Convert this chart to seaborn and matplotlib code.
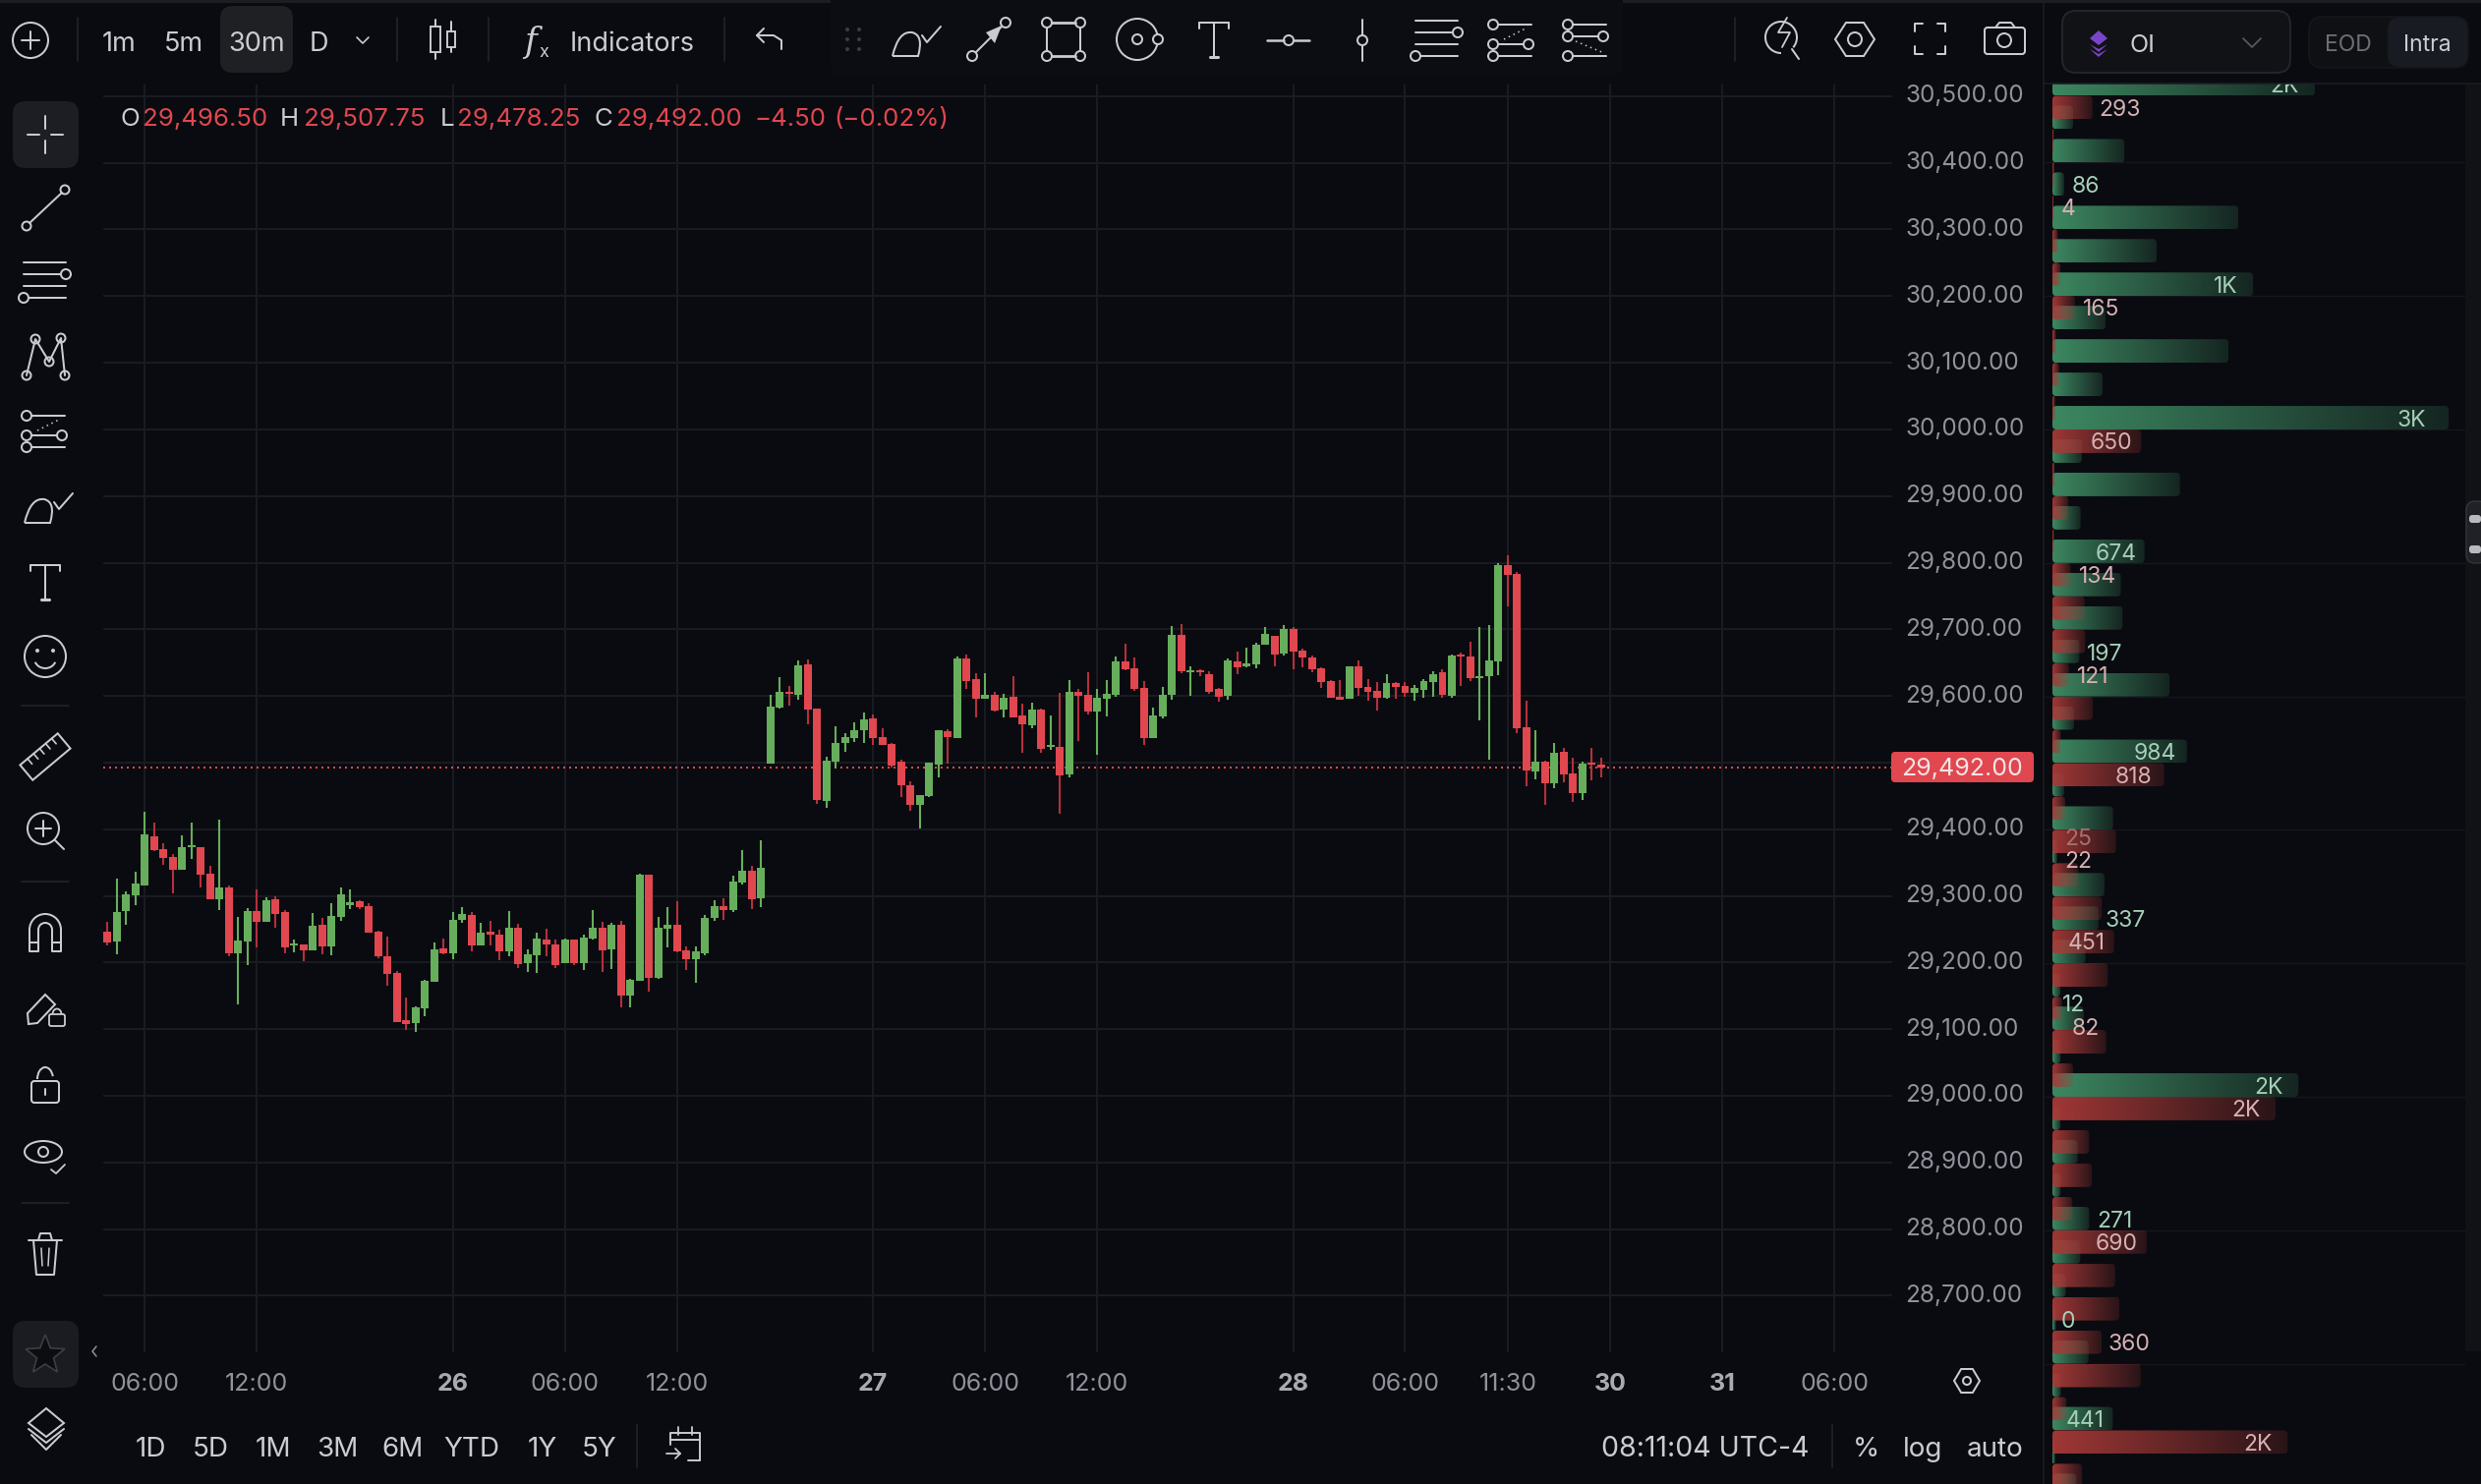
import numpy as np
import pandas as pd
import matplotlib.pyplot as plt
import seaborn as sns
from matplotlib.path import Path
from matplotlib.patches import Circle, Ellipse, FancyBboxPatch, Polygon, Arc, PathPatch

W, H = 2524, 1510
BG = '#0a0b10'
GRID = '#1a1b20'
UP = '#67ae5c'
DOWN = '#e0474f'
DOWN_WICK = '#b4303a'
TXT = '#c9ccd1'
AXTXT = '#8f929a'
ICON = '#c8cbd0'
SEP = '#22242a'

# 30 minute candles
opens = [29246, 29231.5, 29277, 29301, 29315.5, 29389, 29370, 29358, 29339, 29373,
         29373, 29333, 29295, 29312.5, 29214, 29231.5, 29277, 29261, 29295, 29275.5,
         29225.5, 29227, 29218, 29256.5, 29224, 29268.5, 29286, 29292, 29284.5, 29246,
         29209.5, 29184.5, 29113.5, 29109, 29131, 29171, 29221, 29214, 29264, 29271.5,
         29225.5, 29246, 29242, 29216.5, 29252, 29199, 29211, 29234.5, 29227, 29199,
         29234.5, 29199, 29236, 29252, 29219.5, 29256.5, 29150.5, 29172.5, 29332, 29177,
         29250.5, 29256.5, 29218, 29205, 29214, 29267, 29284.5, 29278.5, 29320, 29337.5,
         29296.5, 29498.5, 29582.5, 29606, 29601.5, 29647.5, 29581, 29442.5, 29501.5, 29529.5,
         29537, 29548.5, 29566.5, 29538.5, 29528, 29501.5, 29466, 29436.5, 29450, 29497,
         29547, 29537, 29656.5, 29625.5, 29596, 29601.5, 29579.5, 29598.5, 29570.5, 29556,
         29579.5, 29523.5, 29523.5, 29482, 29606, 29601.5, 29576.5, 29596, 29601.5, 29652,
         29641.5, 29612, 29537, 29569, 29601.5, 29691.5, 29635.5, 29638.5, 29632.5, 29610.5,
         29600, 29652, 29644.5, 29647.5, 29677, 29690, 29663.5, 29700.5, 29668, 29657.5,
         29641.5, 29622.5, 29598.5, 29596, 29644.5, 29613.5, 29607.5, 29597.5, 29619.5, 29615,
         29604.5, 29609, 29621, 29635.5, 29600, 29662, 29659, 29626.5, 29629.5, 29652,
         29796.5, 29783, 29553, 29486.5, 29501.5, 29469, 29516, 29483.5, 29454, 29500,
         29496.5]
highs = [29261, 29326, 29306.5, 29336, 29426, 29410, 29379, 29362.5, 29391, 29410,
         29373, 29345, 29414.5, 29315.5, 29268.5, 29281.5, 29309.5, 29298, 29299, 29278.5,
         29234.5, 29227, 29274.5, 29267, 29289, 29312.5, 29309.5, 29293.5, 29289, 29247.5,
         29239, 29187, 29147.5, 29134, 29174, 29230, 29236, 29275.5, 29283, 29275.5,
         29259.5, 29262.5, 29249, 29277, 29258, 29219.5, 29245, 29250.5, 29234.5, 29236,
         29234.5, 29242, 29278.5, 29261, 29259.5, 29262.5, 29175.5, 29333, 29332, 29268.5,
         29283, 29292, 29224, 29224, 29271.5, 29293.5, 29296.5, 29330.5, 29368.5, 29345,
         29383.5, 29601.5, 29628, 29615, 29653.5, 29655, 29581, 29509, 29554.5, 29544,
         29560.5, 29575, 29572, 29551.5, 29529.5, 29504.5, 29472, 29451.5, 29500, 29548.5,
         29550, 29659, 29662, 29634, 29634, 29606, 29603, 29629.5, 29588.5, 29590,
         29581, 29570.5, 29604.5, 29624, 29610.5, 29635.5, 29610.5, 29624, 29659, 29678.5,
         29657.5, 29622.5, 29582.5, 29613.5, 29705, 29708, 29644.5, 29640, 29637, 29612,
         29656.5, 29666.5, 29672.5, 29680, 29703.5, 29690, 29706.5, 29703.5, 29671, 29660.5,
         29643, 29624, 29624, 29644.5, 29653.5, 29625.5, 29621, 29632.5, 29621, 29621,
         29616.5, 29625.5, 29637, 29640, 29662, 29665, 29681.5, 29703.5, 29706.5, 29799.5,
         29811, 29786, 29593, 29548.5, 29503, 29529.5, 29522, 29507.5, 29501.5, 29522,
         29507.75]
lows = [29225.5, 29212, 29256.5, 29286, 29315.5, 29367, 29346.5, 29303.5, 29339, 29355.5,
        29312.5, 29295, 29278.5, 29209.5, 29137, 29196, 29222.5, 29261, 29252, 29214,
        29215.5, 29202, 29218, 29212, 29211, 29262.5, 29280, 29280, 29245, 29206.5,
        29165, 29110.5, 29099, 29096, 29119.5, 29171, 29212, 29205, 29259.5, 29216.5,
        29225.5, 29225.5, 29203.5, 29209.5, 29191.5, 29186, 29184.5, 29209.5, 29191.5, 29199,
        29196, 29188.5, 29234.5, 29186, 29190, 29132.5, 29132.5, 29172.5, 29156.5, 29175.5,
        29222.5, 29215.5, 29188.5, 29169.5, 29211, 29262.5, 29264, 29275.5, 29317, 29280,
        29283, 29498.5, 29581, 29585.5, 29594.5, 29557.5, 29438, 29432, 29491, 29516,
        29531, 29529.5, 29526.5, 29526.5, 29492.5, 29448.5, 29427.5, 29401, 29448.5, 29478,
        29498.5, 29537, 29610.5, 29568, 29596, 29576.5, 29568, 29568, 29514.5, 29551.5,
        29514.5, 29519, 29423, 29478, 29532.5, 29572, 29511.5, 29569, 29598.5, 29638.5,
        29607.5, 29526.5, 29537, 29566.5, 29594.5, 29634, 29600, 29629.5, 29603, 29591.5,
        29594.5, 29632.5, 29643, 29641.5, 29677, 29644.5, 29660.5, 29640, 29643, 29635.5,
        29612, 29597.5, 29594.5, 29596, 29600, 29593, 29578, 29596, 29596, 29598.5,
        29593, 29597.5, 29598.5, 29597, 29597, 29615, 29622.5, 29563.5, 29504.5, 29631,
        29734.5, 29544, 29464.5, 29475, 29436.5, 29461.5, 29470.5, 29441, 29444, 29473.5,
        29478.25]
closes = [29230, 29275.5, 29302, 29318.5, 29392, 29368.5, 29357, 29339, 29373, 29376,
          29332, 29295, 29312.5, 29214, 29233, 29277, 29261, 29293.5, 29273, 29222.5,
          29228.5, 29218, 29255, 29224, 29270, 29302, 29290.5, 29283, 29245, 29209.5,
          29183, 29110.5, 29107.5, 29132.5, 29172.5, 29219.5, 29214, 29264, 29273, 29225.5,
          29245, 29242, 29216.5, 29252, 29197.5, 29212, 29236, 29227, 29196, 29234.5,
          29199, 29237.5, 29252, 29218, 29256.5, 29150.5, 29174, 29332, 29177, 29252,
          29256.5, 29216.5, 29205, 29216.5, 29267, 29284.5, 29278.5, 29321.5, 29337.5, 29295,
          29342, 29584, 29606, 29603, 29646, 29579.5, 29444, 29503, 29529.5, 29538.5,
          29548.5, 29565, 29537, 29526.5, 29495.5, 29466, 29436.5, 29451.5, 29500, 29548.5,
          29538.5, 29656.5, 29622.5, 29596, 29601.5, 29578, 29597, 29568, 29557.5, 29579.5,
          29520.5, 29526.5, 29481, 29606, 29600, 29576.5, 29597.5, 29603, 29652, 29640,
          29610.5, 29537, 29570.5, 29601.5, 29691.5, 29637, 29638.5, 29635.5, 29606, 29598.5,
          29653.5, 29643, 29649, 29677, 29693, 29662, 29700.5, 29666.5, 29657.5, 29640,
          29621, 29597.5, 29594.5, 29644.5, 29612, 29606, 29597.5, 29619.5, 29613.5, 29604.5,
          29612, 29622.5, 29632.5, 29601.5, 29660.5, 29659, 29626.5, 29629.5, 29653.5, 29796.5,
          29781.5, 29551.5, 29488, 29501.5, 29469, 29514.5, 29482, 29454, 29498.5, 29497,
          29492]

# time axis
tick_bars = [4, 16, 37, 49, 61, 82, 94, 106, 127, 139, 150, 161, 173, 185]
tick_names = ['06:00', '12:00', '26', '06:00', '12:00', '27', '06:00', '12:00', '28',
              '06:00', '11:30', '30', '31', '06:00']
date_names = ['26', '27', '28', '30', '31']
price_ticks = list(range(28700, 30501, 100))

# open interest per strike
strikes = list(range(30500, 28350, -50))
calls = [1920, 151, 527, 86, 1360, 763, 1468, 388, 1288, 367,
         2900, 216, 933, 206, 674, 501, 513, 197, 856, 158,
         984, 86, 444, 35, 381, 337, 242, 58, 230, 60,
         1800, 58, 185, 60, 269, 204, 98, 25, 264, 62,
         441, 20, 175]
puts = [293, 10, 14, 8, 40, 58, 165, 26, 50, 20,
        650, 15, 117, 12, 134, 235, 240, 121, 295, 62,
        818, 94, 465, 190, 362, 451, 405, 70, 393, 151,
        1633, 269, 288, 146, 690, 458, 489, 360, 645, 103,
        1720, 216, 100]

# text, x on the OI scale, price, side
oi_labels = [('2K', 1590, 30517, 'c'), ('293', 343, 30483, 'p'), ('86', 144, 30367, 'c'), ('4', 65, 30333, 'p'),
             ('1K', 1178, 30217, 'c'), ('165', 223, 30183, 'p'), ('3K', 2525, 30017, 'c'), ('650', 278, 29983, 'p'),
             ('674', 317, 29817, 'c'), ('134', 192, 29783, 'p'), ('197', 250, 29667, 'c'), ('121', 178, 29633, 'p'),
             ('984', 595, 29517, 'c'), ('818', 460, 29483, 'p'), ('25', 86, 29390, 'd'), ('22', 86, 29355, 'p'),
             ('337', 386, 29267, 'c'), ('451', 115, 29233, 'p'), ('12', 72, 29141, 'c'), ('82', 144, 29106, 'p'),
             ('2K', 1475, 29017, 'c'), ('2K', 1314, 28983, 'p'), ('271', 324, 28817, 'c'), ('690', 317, 28783, 'p'),
             ('0', 63, 28667, 'c'), ('360', 410, 28633, 'p'), ('441', 101, 28517, 'c'), ('2K', 1396, 28483, 'p')]

sns.set_theme(style='dark', rc={'figure.facecolor': BG, 'axes.facecolor': BG, 'savefig.facecolor': BG,
                                'axes.grid': True, 'grid.color': GRID, 'grid.linewidth': 1.44,
                                'axes.spines.left': False, 'axes.spines.right': False,
                                'axes.spines.top': False, 'axes.spines.bottom': False})
plt.rcParams['font.family'] = ['Inter', 'DejaVu Sans']

fig = plt.figure(figsize=(W / 100, H / 100), dpi=100)


def px_axes(x0, y0, x1, y1, **kw):
    return fig.add_axes([x0 / W, 1 - y1 / H, (x1 - x0) / W, (y1 - y0) / H], **kw)


# ---- candles
ax = px_axes(105, 86, 1925, 1376)
df = pd.DataFrame({'open': opens, 'high': highs, 'low': lows, 'close': closes})
df['bar'] = df.index
rising = df['close'] >= df['open']
ax.axhline(closes[-1], color=DOWN, lw=1.44, ls=(0, (1, 2)), zorder=1.5)
ax.vlines(df['bar'], df['low'], df['high'], colors=np.where(rising, UP, DOWN_WICK), lw=1.5, zorder=2)
ax.bar(df['bar'], (df['close'] - df['open']).abs(), bottom=df[['open', 'close']].min(axis=1),
       width=0.84, color=np.where(rising, UP, DOWN), linewidth=0, zorder=3)
ax.set_xlim(-0.453, 191.17)
ax.set_ylim(28615, 30517.5)
ax.set_axisbelow(True)
ax.grid(True, axis='both')
ax.set_xticks(tick_bars)
ax.set_xticklabels(tick_names)
for lab in ax.get_xticklabels():
    if lab.get_text() in date_names:
        lab.set_fontweight('bold')
        lab.set_color('#a8abb1')
    else:
        lab.set_color(AXTXT)
ax.set_yticks(price_ticks)
# the 29,500 label sits behind the last price tag, so it stays blank
ax.set_yticklabels(['' if p == 29500 else f'{p:,.2f}' for p in price_ticks], color=AXTXT)
ax.yaxis.tick_right()
ax.tick_params(axis='x', length=0, pad=15, labelsize=18)
ax.tick_params(axis='y', length=0, pad=9.5, labelsize=17.5)
for lab in ax.get_yticklabels():
    lab.set_verticalalignment('center')

# ---- open interest panel
PX_PER_OI = 0.139
ax_oi = px_axes(2080, 85, 2508, H)
oi = pd.DataFrame({'strike': strikes * 2, 'oi': calls + puts,
                   'side': ['call'] * len(strikes) + ['put'] * len(strikes)})
sns.barplot(data=oi, x='oi', y='strike', hue='side', hue_order=['put', 'call'], orient='h',
            native_scale=True, width=1.41, gap=0, dodge=True, errorbar=None, legend=False,
            palette={'call': '#408f66', 'put': '#a53a38'}, saturation=1, ax=ax_oi)
oi_xlim = (-8 / PX_PER_OI, 428 / PX_PER_OI - 8 / PX_PER_OI)
oi_ylim = (28419.7, 30518.4)
green_rgb = np.array([0x40, 0x8f, 0x66]) / 255
red_rgb = np.array([0xa8, 0x3a, 0x38]) / 255
ramp = np.linspace(0, 1, 256)
for bar in list(ax_oi.patches):
    is_call = abs(bar.get_facecolor()[1] - green_rgb[1]) < 0.01
    x0, y0, w, h = bar.get_x(), bar.get_y(), bar.get_width(), bar.get_height()
    bar.set_facecolor('none')
    bar.set_edgecolor('none')
    if w <= 0:
        continue
    rgba = np.ones((1, 256, 4))
    rgba[..., :3] = green_rgb if is_call else red_rgb
    rgba[..., 3] = 0.95 - 0.75 * ramp
    im = ax_oi.imshow(rgba, extent=(x0, x0 + w, y0, y0 + h), aspect='auto', interpolation='bilinear',
                      zorder=2 if is_call else 3)
    r = min(29, w / 2)
    clip = FancyBboxPatch((x0, y0), w, h, boxstyle=f'round,pad=0,rounding_size={r}', mutation_aspect=0.2,
                          transform=ax_oi.transData)
    im.set_clip_path(clip)
ax_oi.set_xlim(*oi_xlim)
ax_oi.set_ylim(*oi_ylim)
ax_oi.set_xlabel('')
ax_oi.set_ylabel('')
ax_oi.set_xticks([])
ax_oi.set_yticks(list(range(28600, 30500, 200)))
ax_oi.set_yticklabels([])
ax_oi.tick_params(length=0)
ax_oi.set_axisbelow(True)
ax_oi.grid(True, axis='y', color='#15161b', lw=1)
ax_oi.grid(False, axis='x')
side_colors = {'c': '#a5cfb8', 'p': '#d6b0b2', 'd': '#a4716f'}
for txt_, xval, price, side in oi_labels:
    ax_oi.text(xval, price, txt_, color=side_colors[side], fontsize=16.5, ha='left', va='center_baseline',
               zorder=5, clip_on=True)

# ---- interface chrome, in pixel coordinates
ui = fig.add_axes([0, 0, 1, 1], facecolor='none', zorder=10)
ui.set_xlim(0, W)
ui.set_ylim(H, 0)
ui.axis('off')


def ln(xs, ys, c=ICON, lw=1.45, **kw):
    ui.plot(xs, ys, color=c, lw=lw, solid_capstyle='round', solid_joinstyle='round', **kw)


def circ(x, y, r, c=ICON, lw=1.45, fc='none'):
    ui.add_patch(Circle((x, y), r, fc=fc, ec=c, lw=lw))


def box(x0, y0, x1, y1, fc, ec='none', r=10, lw=1.0):
    ui.add_patch(FancyBboxPatch((x0, y0), x1 - x0, y1 - y0, boxstyle=f'round,pad=0,rounding_size={r}',
                                fc=fc, ec=ec, lw=lw))


def txt(x, y, s, c=TXT, size=19.5, ha='center', **kw):
    ui.text(x, y, s, color=c, fontsize=size, ha=ha, va='center_baseline', **kw)


def brush(cx, cy):
    verts = [(cx - 23, cy + 15), (cx - 17, cy - 11), (cx - 3, cy - 9), (cx + 9, cy - 6), (cx + 3, cy + 15), (cx - 23, cy + 15)]
    codes = [Path.MOVETO, Path.CURVE3, Path.CURVE3, Path.CURVE3, Path.CURVE3, Path.LINETO]
    ui.add_patch(PathPatch(Path(verts, codes), fc='none', ec=ICON, lw=1.45))
    ln(cx + np.array([7, 12, 26]), cy + np.array([-6, 1, -15]))


def fib_a(dx, dy):
    ln([1440 + dx, 1483 + dx], [21 + dy, 21 + dy])
    ln([1440 + dx, 1478 + dx], [33 + dy, 33 + dy])
    circ(1483 + dx, 33 + dy, 5)
    ln([1440 + dx, 1483 + dx], [45 + dy, 45 + dy])
    ln([1445 + dx, 1483 + dx], [57 + dy, 57 + dy])
    circ(1440 + dx, 57 + dy, 5)


def fib_b(dx, dy):
    for y in (25, 57):
        circ(1519 + dx, y + dy, 5)
        ln([1524 + dx, 1558 + dx], [y + dy, y + dy])
    circ(1519 + dx, 45 + dy, 5)
    circ(1555 + dx, 45 + dy, 5)
    ln([1524 + dx, 1550 + dx], [45 + dy, 45 + dy])
    ln([1530 + dx, 1554 + dx], [40 + dy, 28 + dy], lw=1.1, ls=(0, (1, 2.5)))


def fib_c(dx, dy):
    for y in (25, 57):
        circ(1595 + dx, y + dy, 5)
        ln([1600 + dx, 1634 + dx], [y + dy, y + dy])
    circ(1595 + dx, 37 + dy, 5)
    circ(1631 + dx, 37 + dy, 5)
    ln([1600 + dx, 1626 + dx], [37 + dy, 37 + dy])
    ln([1603 + dx, 1632 + dx], [42 + dy, 54 + dy], lw=1.1, ls=(0, (1, 2.5)))


def tee(cx, cy):
    ln([cx, cx], [cy - 19, cy + 16])
    ln([cx - 15, cx + 15], [cy - 19, cy - 19])
    ln([cx - 15, cx - 15], [cy - 19, cy - 13])
    ln([cx + 15, cx + 15], [cy - 19, cy - 13])
    ln([cx - 4, cx + 4], [cy + 16, cy + 16], lw=2.2)


def hexagon(cx, cy, rx, ry, hole):
    ui.add_patch(Polygon([(cx - rx, cy), (cx - rx * 0.45, cy - ry), (cx + rx * 0.45, cy - ry), (cx + rx, cy),
                          (cx + rx * 0.45, cy + ry), (cx - rx * 0.45, cy + ry)], closed=True, fc='none', ec=ICON, lw=1.45))
    circ(cx, cy, hole)


ui.add_patch(plt.Rectangle((0, 0), W, 2.5, fc='#1c1d22', ec='none'))
# tool strip behind the drawing icons
box(845, -10, 1651, 77, '#0c0d12', r=10)

circ(31, 41, 18)
ln([22, 40], [41, 41])
ln([31, 31], [32, 50])
for x in (79, 403.5, 497, 737, 1765):
    ln([x, x], [18, 62], c=SEP, lw=1.2)
box(224, 6, 298, 74, '#1f2024', r=13)
for x, s in [(121, '1m'), (187, '5m'), (261, '30m'), (324, 'D')]:
    txt(x, 42, s)
ln([363, 369, 375], [38, 44, 38], lw=1.2)
# candle glyph
ln([443, 443], [20, 60])
ui.add_patch(plt.Rectangle((438, 27), 10, 26, fc=BG, ec=ICON, lw=1.4, zorder=3))
ln([459, 459], [22, 53])
ui.add_patch(plt.Rectangle((455, 32), 8, 16, fc=BG, ec=ICON, lw=1.4, zorder=3))
# f(x)
txt(540, 40, 'f', size=25, style='italic', family='DejaVu Serif')
txt(553, 52, 'x', size=13)
txt(643, 42, 'Indicators')
# undo
ln([777, 770, 777], [29, 36, 43])
ln([770, 787, 795, 795], [36, 36, 41, 50])
for x in (862, 874):
    for y in (30, 40, 50):
        ui.add_patch(Circle((x, y), 2, fc='#3a3d44', ec='none'))

brush(931, 42)
circ(989, 57, 5)
circ(1023, 23, 5)
ln([993, 1019], [53, 27])
ui.add_patch(Polygon([(1019, 26), (1003, 33), (1012, 44)], closed=True, fc=ICON, ec='none'))
for x, y in [(1065, 23), (1099, 23), (1065, 57), (1099, 57)]:
    circ(x, y, 5)
ln([1070, 1094], [23, 23], lw=2)
ln([1070, 1094], [57, 57], lw=2)
ln([1065, 1065], [28, 52])
ln([1099, 1099], [28, 52])
circ(1157, 40, 21)
circ(1157, 40, 5)
circ(1178, 40, 5, fc=BG)
tee(1235, 42)
circ(1311, 41, 5)
ln([1289, 1306], [41, 41], lw=1.8)
ln([1316, 1332], [41, 41], lw=1.8)
ln([1386, 1386], [20, 36])
ln([1386, 1386], [46, 62])
circ(1386, 41, 5)
fib_a(0, 0)
fib_b(0, 0)
fib_c(0, 0)

# right side tools
ui.add_patch(Arc((1812, 38), 32, 32, theta1=90, theta2=400, ec=ICON, lw=1.45))
ln([1823, 1830], [50, 60])
ln([1818, 1809, 1821, 1813], [18, 33, 33, 48], lw=1.3)
hexagon(1887, 40, 20, 17, 7)
for sx, sy in [(1948, 24), (1979, 24), (1948, 55), (1979, 55)]:
    dx = 8 if sx == 1948 else -8
    dy = 8 if sy == 24 else -8
    ln([sx + dx, sx, sx], [sy, sy, sy + dy])
box(2019, 28, 2060, 55, 'none', ICON, r=3, lw=1.45)
ln([2030, 2034, 2046, 2050], [28, 23, 23, 28])
circ(2039, 41, 7)

# OI panel header
ln([2079, 2079], [0, H], c='#1c1d22', lw=1.2)
ln([2079, W], [85, 85], c='#1c1d22', lw=1.2)
box(2098, 11, 2330, 74, '#111216', '#24252a', r=14, lw=1.4)
ui.add_patch(Polygon([(2135, 31), (2144, 39), (2135, 46), (2126, 39)], closed=True, fc='#7b45c9', ec='none'))
for y in (45, 50):
    ui.add_patch(Polygon([(2126, y), (2135, y + 5), (2144, y), (2135, y + 8)], closed=True, fc='#7b45c9', ec='none'))
txt(2179, 44, 'OI', size=18)
ln([2282, 2291, 2300], [39, 48, 39], c='#55585f', lw=1.3)
box(2349, 17, 2511, 69, '#0f1014', '#17181d', r=14)
box(2429, 18, 2510, 68, '#191b22', r=12)
txt(2389, 43, 'EOD', c='#6b6e75', size=16.5)
txt(2469, 43, 'Intra', c=TXT, size=16.5)

# scroll strip
ui.add_patch(plt.Rectangle((2508, 86), 16, 1289, fc='#111216', ec='none'))
box(2509, 510, 2530, 573, '#202127', '#33353b', r=9)
box(2512, 524, 2524, 532, '#b8bac0', r=3)
box(2512, 555, 2524, 563, '#b8bac0', r=3)

# OHLC readout
for x, s, c in [(123, 'O', TXT), (145, '29,496.50', DOWN), (285, 'H', TXT), (309, '29,507.75', DOWN),
                (448, 'L', TXT), (465, '29,478.25', DOWN), (605, 'C', TXT), (627, '29,492.00', DOWN),
                (767, '−4.50', DOWN), (848, '(−0.02%)', DOWN)]:
    txt(x, 119, s, c=c, ha='left', size=18.6)

# last price tag
box(1924, 765, 2069, 796, DOWN, r=4)
txt(1996.5, 780, f'{closes[-1]:,.2f}', c='#f4e4e5', size=18)

# left tool column
box(13, 103, 80, 171, '#1d1e23', r=13)
ln([28, 40], [137, 137])
ln([52, 64], [137, 137])
ln([46, 46], [118, 131])
ln([46, 46], [143, 156])
circ(27, 230, 4.5)
circ(66, 193, 4.5)
ln([30, 63], [227, 196])
fib_a(-1416, 246)
nodes_x = [27, 36, 50, 62, 66]
nodes_y = [382, 345, 368, 344, 382]
ln(nodes_x, nodes_y)
for nx, ny in zip(nodes_x, nodes_y):
    circ(nx, ny, 4.5, fc=BG)
fib_b(-1492, 398)
brush(48, 517)
tee(46, 594)
circ(46, 668, 21)
ui.add_patch(Circle((38, 662), 2, fc=ICON, ec='none'))
ui.add_patch(Circle((54, 662), 2, fc=ICON, ec='none'))
ui.add_patch(Arc((46, 670), 22, 20, theta1=20, theta2=160, ec=ICON, lw=1.45))
for y in (718, 897, 1224):
    ln([22, 70], [y, y], c=SEP, lw=1.2)
# ruler
ang = np.deg2rad(-40)
u = np.array([np.cos(ang), np.sin(ang)])
v = np.array([-u[1], u[0]])
c0 = np.array([46, 770])
ui.add_patch(Polygon([c0 - 25 * u - 10 * v, c0 + 25 * u - 10 * v, c0 + 25 * u + 10 * v, c0 - 25 * u + 10 * v],
                     closed=True, fc='none', ec=ICON, lw=1.45))
for t in (-15, -7, 1, 9, 17):
    a = c0 + t * u - 10 * v
    b = a + 7 * v
    ln([a[0], b[0]], [a[1], b[1]], lw=1.2)
# zoom
circ(44, 843, 16)
ln([36, 52], [843, 843])
ln([44, 44], [835, 851])
ln([56, 65], [855, 864])
# magnet
ui.add_patch(Arc((46, 946), 32, 32, theta1=180, theta2=360, ec=ICON, lw=1.45))
ui.add_patch(Arc((46, 946), 14, 14, theta1=180, theta2=360, ec=ICON, lw=1.45))
ln([30, 30, 39, 39], [946, 968, 968, 946])
ln([53, 53, 62, 62], [946, 968, 968, 946])
ln([30, 39], [959, 959])
ln([53, 62], [959, 959])
# pencil with lock
ui.add_patch(Polygon([(29, 1042), (28, 1031), (46, 1012), (56, 1022), (38, 1041)], closed=True, fc='none', ec=ICON, lw=1.45))
box(50, 1032, 66, 1044, BG, ICON, r=2, lw=1.3)
ui.add_patch(Arc((58, 1032), 9, 11, theta1=180, theta2=360, ec=ICON, lw=1.3))
# lock
box(32, 1100, 60, 1122, 'none', ICON, r=3, lw=1.45)
ui.add_patch(Arc((46, 1098), 16, 24, theta1=180, theta2=340, ec=ICON, lw=1.45))
ln([46, 46], [1108, 1114])
# eye
ui.add_patch(Ellipse((44, 1172), 38, 22, fc='none', ec=ICON, lw=1.45))
circ(44, 1172, 5)
ln([52, 57, 66], [1190, 1194, 1185], lw=1.3)
# trash
ln([29, 63], [1262, 1262])
ln([34, 37, 55, 58], [1262, 1297, 1297, 1262])
ln([39, 41, 51, 53], [1262, 1255, 1255, 1262])
ln([42, 43], [1270, 1288], lw=1.1)
ln([50, 49], [1270, 1288], lw=1.1)
# favourites
box(13, 1344, 80, 1412, '#1b1c21', r=13)
pts = []
for j in range(10):
    rad = 21 if j % 2 == 0 else 9
    t = -np.pi / 2 + j * np.pi / 5
    pts.append((46 + rad * np.cos(t), 1379 + rad * np.sin(t)))
ui.add_patch(Polygon(pts, closed=True, fc='#0c0d11', ec='#3c3e44', lw=1.2))
ln([98, 94, 98], [1370, 1375, 1380], c=AXTXT, lw=1.1)
# layers
ui.add_patch(Polygon([(47, 1433), (65, 1448), (47, 1462), (29, 1448)], closed=True, fc='none', ec=ICON, lw=1.45))
ln([29, 47, 65], [1454, 1468, 1454])
ln([32, 47, 62], [1460, 1475, 1460])

# bottom bar
for x, s in [(153, '1D'), (214, '5D'), (278, '1M'), (343, '3M'), (409, '6M'), (480, 'YTD'), (552, '1Y'), (610, '5Y')]:
    txt(x, 1472, s, size=20)
ln([648, 648], [1450, 1493], c=SEP, lw=1.2)
ln([682, 682, 712, 712], [1470, 1458, 1458, 1486], lw=1.4)
ln([700, 712], [1486, 1486], lw=1.4)
ln([682, 712], [1465, 1465], lw=1.4)
ln([690, 690], [1452, 1460], lw=1.3)
ln([704, 704], [1452, 1460], lw=1.3)
ln([678, 692], [1479, 1479], lw=1.3)
ln([687, 692, 687], [1474, 1479, 1484], lw=1.3)
txt(1735, 1472, '08:11:04 UTC-4', size=20.5)
ln([1864, 1864], [1450, 1493], c=SEP, lw=1.2)
txt(1899, 1472, '%', size=20)
txt(1956, 1472, 'log', size=20)
txt(2030, 1472, 'auto', size=20)
hexagon(2001, 1405, 13, 12, 4)

fig.savefig('out.png', dpi=100, facecolor=BG)
